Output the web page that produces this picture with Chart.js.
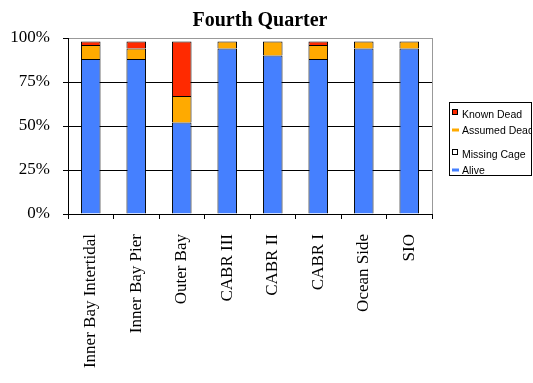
<!DOCTYPE html>
<html><head><meta charset="utf-8">
<script src="https://cdn.jsdelivr.net/npm/chart.js@4/dist/chart.umd.min.js"></script>
<style>html,body{margin:0;padding:0;background:#fff}#wrap{width:533px;height:383px}</style>
</head><body><div id="wrap"><canvas id="c" width="533" height="383"></canvas></div>
<script>
const categories = ["Inner Bay Intertidal","Inner Bay Pier","Outer Bay","CABR III","CABR II","CABR I","Ocean Side","SIO"];
const alive = [88, 88, 52, 94, 90, 88, 94, 94];
const missingCage = [0, 0, 0, 0, 0, 0, 0, 0];
const assumedDead = [8, 6, 15, 4, 8, 8, 4, 4];
const knownDead = [2, 4, 31, 0, 0, 2, 0, 0];
const yTicks = [0, 25, 50, 75, 100];
const titleText = "Fourth Quarter";

const serif = "'Liberation Serif', 'Times New Roman', serif";
const sans = "'Liberation Sans', Arial, sans-serif";

const extras = {
  id: 'extras',
  afterDraw(chart) {
    const ctx = chart.ctx, a = chart.chartArea;
    ctx.save();
    // right border
    ctx.strokeStyle = '#999';
    ctx.lineWidth = 1;
    ctx.beginPath(); ctx.moveTo(Math.round(a.right)+0.5, a.top); ctx.lineTo(Math.round(a.right)+0.5, a.bottom); ctx.stroke();
    // title
    ctx.fillStyle = '#000';
    ctx.font = "bold 20px " + serif;
    ctx.textAlign = 'center'; ctx.textBaseline = 'middle';
    ctx.fillText(titleText, 260, 21);
    // legend
    ctx.strokeStyle = '#000';
    ctx.strokeRect(449.5, 102.5, 82, 73);
    ctx.save();
    ctx.beginPath(); ctx.rect(450, 103, 81, 72); ctx.clip();
    const items = [
      {label: 'Known Dead', ds: 3, my: 112, ty: 115, shape: 'square'},
      {label: 'Assumed Dead', ds: 2, my: 130, ty: 131, shape: 'dash'},
      {label: 'Missing Cage', ds: 1, my: 152, ty: 155, shape: 'square'},
      {label: 'Alive', ds: 0, my: 170, ty: 171, shape: 'dash'}
    ];
    ctx.font = "10.5px " + sans;
    ctx.textAlign = 'left'; ctx.textBaseline = 'middle';
    items.forEach(it => {
      const d = chart.data.datasets[it.ds];
      if (it.shape === 'square') {
        ctx.fillStyle = d.backgroundColor;
        ctx.fillRect(452, it.my - 3, 6, 6);
        ctx.strokeStyle = '#000';
        ctx.strokeRect(452.5, it.my - 2.5, 5, 5);
      } else {
        ctx.fillStyle = d.backgroundColor;
        ctx.fillRect(452, it.my - 1.5, 7, 3);
      }
      ctx.fillStyle = '#000';
      ctx.fillText(it.label, 462, it.ty);
    });
    ctx.restore();
    ctx.restore();
  }
};

new Chart(document.getElementById('c'), {
  type: 'bar',
  data: {
    labels: categories,
    datasets: [
      {label: 'Alive', data: alive, backgroundColor: '#4580FF', borderColor: '#000', borderWidth: 1},
      {label: 'Missing Cage', data: missingCage, backgroundColor: '#FFFFFF', borderColor: '#000', borderWidth: 0},
      {label: 'Assumed Dead', data: assumedDead, backgroundColor: '#FFAA00', borderColor: '#000', borderWidth: 1},
      {label: 'Known Dead', data: knownDead, backgroundColor: '#FF2A00', borderColor: '#000', borderWidth: 1}
    ]
  },
  options: {
    responsive: false,
    animation: false,
    devicePixelRatio: 1,
    layout: {padding: {top: 38, right: 101, left: 0, bottom: 0}},
    plugins: {legend: {display: false}, title: {display: false}, tooltip: {enabled: false}},
    datasets: {bar: {categoryPercentage: 1, barPercentage: 0.43}},
    scales: {
      x: {
        stacked: true,
        afterFit(s) { s.height = 169; },
        grid: {offset: true, drawOnChartArea: false, color: '#000', tickLength: 5},
        border: {color: '#000'},
        ticks: {maxRotation: 90, minRotation: 90, autoSkip: false, padding: 15, color: '#000', font: {family: serif, size: 17}}
      },
      y: {
        stacked: true, min: 0, max: 100,
        afterFit(s) { s.width = 68; },
        afterBuildTicks(s) { s.ticks = yTicks.map(v => ({value: v})); },
        grid: {color: c => c.tick && c.tick.value === 100 ? '#999' : '#000', tickLength: 5, tickColor: '#000'},
        border: {color: '#000'},
        ticks: {padding: 13, color: '#000', font: {family: serif, size: 17}, callback: v => v + '%'}
      }
    }
  },
  plugins: [extras]
});
</script>
</body></html>
